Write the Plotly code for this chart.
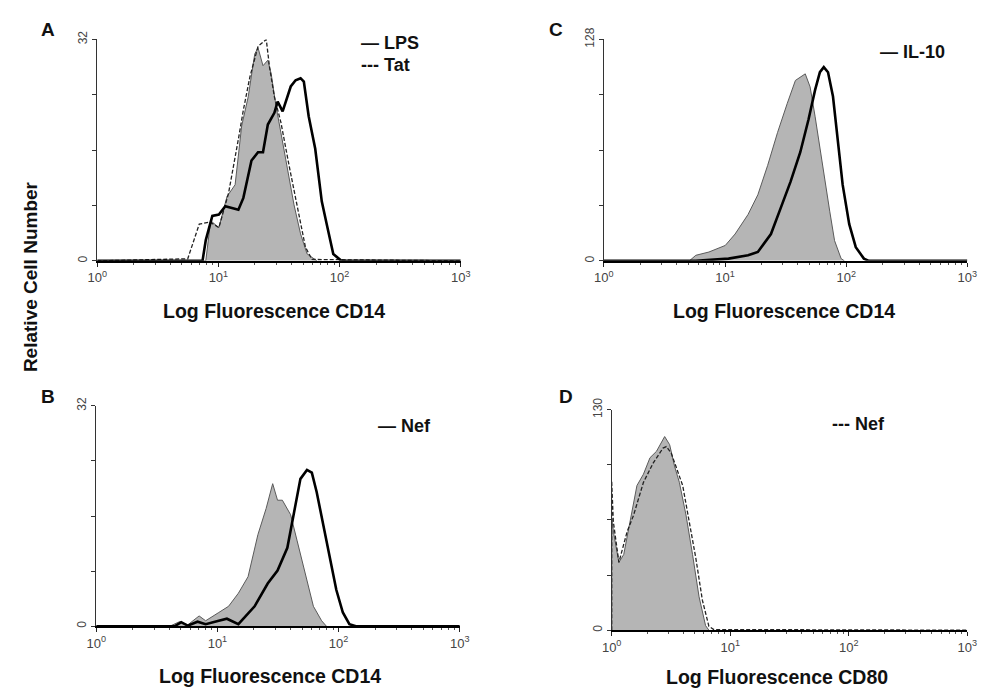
import plotly.graph_objects as go

# ---------------- Data (x in log10 fluorescence units, y = relative cell number) ----------------
# Panel A : CD14, control (grey fill), LPS (thick), Tat (dashed)
a_ctrl_log = [0.896, 0.936, 1.004, 1.071, 1.138, 1.192, 1.246, 1.300, 1.327, 1.368, 1.408, 1.436,
              1.476, 1.516, 1.570, 1.624, 1.678, 1.732, 1.813]
a_ctrl_cnt = [0, 5.8, 4.8, 9.3, 11, 19.5, 23.7, 29.9, 30.8, 28.2, 29, 27, 22.3, 18.5, 13.3, 8.1, 3.9, 1, 0]
a_lps_log = [0.869, 0.896, 0.950, 1.004, 1.057, 1.165, 1.206, 1.273, 1.327, 1.368, 1.408, 1.462,
             1.489, 1.530, 1.597, 1.637, 1.678, 1.705, 1.745, 1.799, 1.853, 1.894, 1.948, 2.015]
a_lps_cnt = [0, 3, 6.5, 6.7, 7.9, 7.4, 9.1, 14.5, 15.7, 15.7, 19.7, 21.4, 23, 21.6, 25.2, 26.1,
             26.4, 25.9, 20.9, 16.2, 8.6, 5.3, 1, 0]
a_tat_log = [0.747, 0.842, 0.930, 1.004, 1.084, 1.165, 1.206, 1.260, 1.327, 1.395, 1.422, 1.462,
             1.516, 1.583, 1.651, 1.718, 1.772]
a_tat_cnt = [0.3, 5.3, 5.6, 4.8, 9.8, 17.6, 21.8, 26.6, 31, 32, 28, 23.7, 20, 13.8, 7.7, 2, 0.2]

# Panel C : CD14, control (grey fill), IL-10 (thick)
c_ctrl_log = [0.706, 0.759, 0.867, 1.002, 1.083, 1.190, 1.271, 1.352, 1.433, 1.514, 1.581, 1.662,
              1.702, 1.743, 1.783, 1.823, 1.864, 1.904, 1.958, 1.985]
c_ctrl_cnt = [0, 3.2, 5.1, 8.9, 15.5, 26.8, 38.2, 55.2, 74.1, 91.1, 104.3, 108.1, 100.6, 83.6,
              64.7, 47.6, 28.7, 11.7, 1.3, 0]
c_il10_log = [0.759, 1.029, 1.190, 1.271, 1.379, 1.460, 1.541, 1.621, 1.689, 1.743, 1.783, 1.815,
              1.850, 1.891, 1.931, 1.971, 2.025, 2.079, 2.146, 2.187]
c_il10_cnt = [0, 1.3, 3.2, 5.1, 15.5, 30.6, 45.8, 62.8, 81.7, 98.7, 109.1, 112, 109, 95, 68.5,
              43.9, 21.2, 7.9, 1.3, 0]

# Panel B : CD14, control (grey fill), Nef (thick)
b_ctrl_log = [0.606, 0.687, 0.755, 0.849, 0.903, 1.011, 1.092, 1.173, 1.253, 1.334, 1.402, 1.456,
              1.496, 1.536, 1.604, 1.658, 1.725, 1.792, 1.860, 1.900]
b_ctrl_cnt = [0, 0.66, 0.2, 1.5, 0.8, 2.0, 2.9, 4.8, 7.2, 13.3, 17.1, 20.7, 18.3, 18.3, 16.2,
              12.4, 7.7, 2.9, 0.8, 0]
b_nef_log = [0.647, 0.701, 0.755, 0.836, 0.903, 1.011, 1.078, 1.173, 1.226, 1.307, 1.415, 1.496,
             1.577, 1.631, 1.685, 1.739, 1.779, 1.819, 1.873, 1.927, 1.981, 2.035, 2.089, 2.143]
b_nef_cnt = [0, 0.6, 0.1, 0.66, 0.3, 0.8, 1.1, 0.3, 1.3, 2.9, 6.2, 8.1, 11.4, 16.2, 21.4, 22.7,
             22.3, 19.5, 14.8, 9.6, 5.3, 2.0, 0.3, 0]

# Panel D : CD80, control (grey fill), Nef (dashed)
d_ctrl_log = [0.0, 0.019, 0.061, 0.102, 0.157, 0.213, 0.268, 0.323, 0.378, 0.433, 0.447, 0.489,
              0.530, 0.571, 0.627, 0.682, 0.737, 0.792, 0.820]
d_ctrl_cnt = [66, 56.3, 40, 44.7, 64, 85.3, 92, 101.7, 105.5, 112.3, 114.2, 109.4, 96.8, 87.2,
              67.9, 44.7, 19.7, 2.7, 0]
d_nef_log = [0.0, 0.014, 0.061, 0.130, 0.185, 0.268, 0.351, 0.433, 0.461, 0.502, 0.558, 0.599,
             0.654, 0.709, 0.765, 0.820, 0.861]
d_nef_cnt = [88, 64, 40, 58, 67.9, 87.2, 98.7, 107.4, 108.3, 104.5, 93, 85.3, 64, 42.8, 17.7, 2.3, 0.4]

x_tick_vals = [1, 10, 100, 1000]
x_tick_text = ["10<sup>0</sup>", "10<sup>1</sup>", "10<sup>2</sup>", "10<sup>3</sup>"]
minor_vals = [m * d for d in (1, 10, 100) for m in range(2, 10)]

GREY_FILL = "#b5b5b5"
GREY_EDGE = "#5a5a5a"
FONT = "Liberation Sans, Arial, sans-serif"

fig = go.Figure()


def to_lin(logs):
    return [10 ** v for v in logs]


def add_fill(logs, cnt, idx):
    xs = [1] + to_lin(logs)
    ys = [0] + cnt
    fig.add_trace(go.Scatter(x=xs, y=ys, mode="lines", fill="tozeroy", fillcolor=GREY_FILL,
                             line=dict(color=GREY_EDGE, width=1), showlegend=False,
                             xaxis=f"x{idx}", yaxis=f"y{idx}", hoverinfo="skip"))


def add_line(logs, cnt, idx, name, dashed=False):
    xs = [1] + to_lin(logs) + [1000]
    ys = [0] + cnt + [0]
    if dashed:
        line = dict(color="#222", width=1.3, dash="4px,2px")
    else:
        line = dict(color="black", width=2.6)
    fig.add_trace(go.Scatter(x=xs, y=ys, mode="lines", line=line, name=name, showlegend=False,
                             xaxis=f"x{idx}", yaxis=f"y{idx}"))


# panel 1 = A, 2 = C, 3 = B, 4 = D
add_fill(a_ctrl_log, a_ctrl_cnt, 1)
add_line(a_tat_log, a_tat_cnt, 1, "Tat", dashed=True)
add_line(a_lps_log, a_lps_cnt, 1, "LPS")

add_fill(c_ctrl_log, c_ctrl_cnt, 2)
add_line(c_il10_log, c_il10_cnt, 2, "IL-10")

add_fill(b_ctrl_log, b_ctrl_cnt, 3)
add_line(b_nef_log, b_nef_cnt, 3, "Nef")

add_fill(d_ctrl_log, d_ctrl_cnt, 4)
add_line(d_nef_log, d_nef_cnt, 4, "Nef", dashed=True)

W, H = 996, 690
panels = {
    1: dict(x=(89, 460), y=(28, 254), ymax=32),
    2: dict(x=(606, 977), y=(28, 254), ymax=128),
    3: dict(x=(88, 459), y=(402, 627), ymax=32),
    4: dict(x=(614, 977), y=(406, 631), ymax=130),
}

layout = dict(width=W, height=H, margin=dict(l=0, r=0, t=0, b=0),
              paper_bgcolor="white", plot_bgcolor="white",
              font=dict(family=FONT, color="#222"), showlegend=False)

for i, p in panels.items():
    sfx = "" if i == 1 else str(i)
    ymax = p["ymax"]
    layout[f"xaxis{sfx}"] = dict(
        type="log", range=[0, 3], domain=[p["x"][0] / W, p["x"][1] / W], anchor=f"y{i}",
        showline=True, linecolor="black", linewidth=2, ticks="outside", ticklen=4,
        tickcolor="#222", tickwidth=1, tickvals=x_tick_vals, ticktext=x_tick_text,
        tickfont=dict(size=13, color="#444"), showgrid=False, zeroline=False,
        minor=dict(tickvals=minor_vals, ticks="outside", ticklen=2, tickcolor="#555", showgrid=False))
    layout[f"yaxis{sfx}"] = dict(
        range=[0, ymax], domain=[1 - p["y"][1] / H, 1 - p["y"][0] / H], anchor=f"x{i}",
        showline=True, linecolor="#333", linewidth=1, ticks="outside", ticklen=4,
        tickcolor="#333", tickvals=[0, ymax], ticktext=["0", str(ymax)], tickangle=-90,
        tickfont=dict(size=12, color="#444"), showgrid=False, zeroline=False,
        minor=dict(tickvals=[ymax / 4, ymax / 2, 3 * ymax / 4], ticks="outside", ticklen=4,
                   tickcolor="#333", showgrid=False))

fig.update_layout(**layout)

bold = dict(family=FONT, color="#111")
ann = []
# panel letters
for txt, x, y in [("A", 39, 18), ("C", 557, 18), ("B", 39, 392), ("D", 567, 392)]:
    ann.append(dict(text=f"<b>{txt}</b>", x=x / W, y=1 - y / H, xref="paper", yref="paper",
                    showarrow=False, font=dict(size=19, **bold), xanchor="center", yanchor="middle"))
# axis titles
for txt, x, y in [("Log Fluorescence CD14", 269, 305), ("Log Fluorescence CD14", 790, 305),
                  ("Log Fluorescence CD14", 265, 678), ("Log Fluorescence CD80", 783, 679)]:
    ann.append(dict(text=f"<b>{txt}</b>", x=x / W, y=1 - y / H, xref="paper", yref="paper",
                    showarrow=False, font=dict(size=19.5, **bold), xanchor="center", yanchor="middle"))
ann.append(dict(text="<b>Relative Cell Number</b>", x=21 / W, y=1 - 270 / H, xref="paper",
                yref="paper", showarrow=False, textangle=-90, font=dict(size=19, **bold),
                xanchor="center", yanchor="middle"))
# legends
for txt, x, y in [("— LPS", 356, 32), ("--- Tat", 356, 54), ("— IL-10", 886, 41),
                  ("— Nef", 374, 423), ("--- Nef", 837, 421)]:
    ann.append(dict(text=f"<b>{txt}</b>", x=x / W, y=1 - y / H, xref="paper", yref="paper",
                    showarrow=False, font=dict(size=18, **bold), xanchor="left", yanchor="middle"))
fig.update_layout(annotations=ann)

fig.write_html("out.html")
